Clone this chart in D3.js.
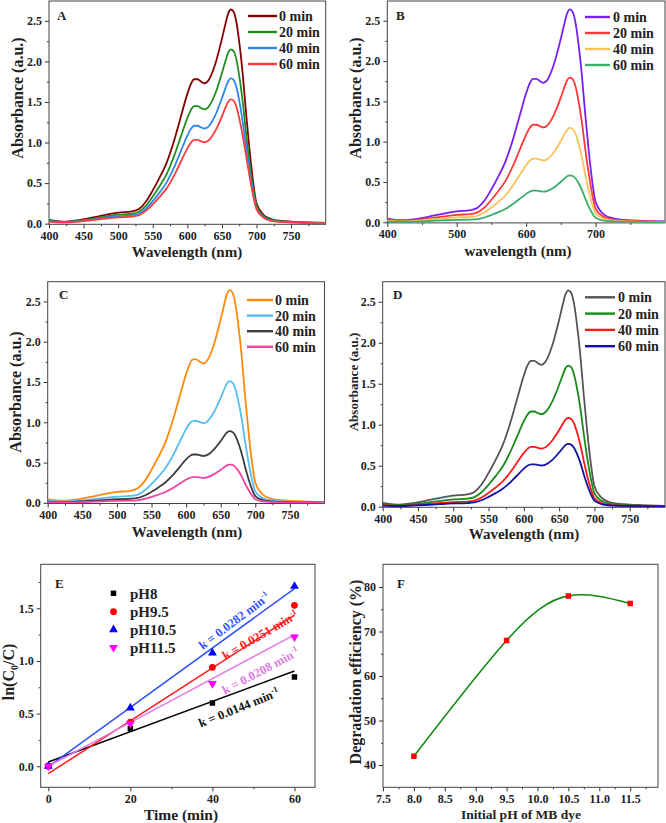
<!DOCTYPE html>
<html><head><meta charset="utf-8">
<script src="https://cdn.jsdelivr.net/npm/d3@7"></script>
<style>
body{margin:0;background:#fff}
svg{display:block}
text{font-family:"Liberation Serif","Times New Roman",serif;font-weight:bold;fill:#222}
</style>
</head><body>
<svg id="c" width="666" height="823"></svg>
<script>
// ---------- DATA ----------
const wavelengths = [400,420,440,460,480,500,520,530,540,550,560,570,580,590,600,605,610,615,620,625,630,640,650,655,659,663,667,671,675,680,685,690,695,700,710,720,740,760,800];
const timeLabels = ["0 min","20 min","40 min","60 min"];

const abs0 = [0.045,0.025,0.04,0.07,0.105,0.135,0.15,0.18,0.27,0.41,0.57,0.75,1.0,1.3,1.6,1.72,1.78,1.78,1.75,1.73,1.76,1.96,2.28,2.46,2.59,2.64,2.61,2.48,2.24,1.85,1.35,0.9,0.52,0.25,0.11,0.06,0.03,0.02,0.01];

const absA20 = [0.037,0.02,0.033,0.057,0.085,0.11,0.122,0.147,0.22,0.334,0.464,0.61,0.814,1.058,1.302,1.4,1.449,1.449,1.425,1.408,1.433,1.595,1.856,2.002,2.108,2.149,2.125,2.019,1.823,1.506,1.1,0.74,0.44,0.22,0.095,0.05,0.025,0.017,0.008];
const absA40 = [0.031,0.017,0.027,0.047,0.071,0.092,0.102,0.122,0.183,0.278,0.386,0.509,0.678,0.881,1.085,1.166,1.207,1.207,1.187,1.173,1.193,1.329,1.546,1.668,1.756,1.79,1.77,1.681,1.519,1.254,0.95,0.65,0.39,0.19,0.08,0.043,0.021,0.014,0.007];
const absA60 = [0.026,0.015,0.023,0.041,0.061,0.078,0.087,0.104,0.157,0.238,0.331,0.435,0.58,0.754,0.928,0.998,1.032,1.032,1.015,1.003,1.021,1.137,1.322,1.427,1.502,1.531,1.514,1.438,1.3,1.09,0.83,0.58,0.35,0.18,0.075,0.038,0.018,0.012,0.006];

const absB20 = [0.031,0.017,0.027,0.048,0.071,0.092,0.102,0.122,0.184,0.279,0.388,0.51,0.68,0.884,1.088,1.17,1.21,1.21,1.19,1.176,1.197,1.333,1.55,1.673,1.761,1.795,1.775,1.686,1.523,1.258,0.918,0.612,0.354,0.17,0.075,0.041,0.02,0.014,0.007];
const absB40 = [0.02,0.011,0.018,0.031,0.047,0.06,0.066,0.08,0.12,0.182,0.253,0.332,0.443,0.576,0.709,0.762,0.789,0.789,0.775,0.766,0.78,0.868,1.01,1.09,1.147,1.17,1.156,1.099,0.992,0.82,0.598,0.399,0.23,0.111,0.049,0.027,0.013,0.009,0.004];
const absB60 = [0.01,0.006,0.009,0.015,0.023,0.03,0.033,0.04,0.059,0.09,0.125,0.165,0.22,0.286,0.352,0.378,0.392,0.392,0.385,0.381,0.387,0.431,0.502,0.541,0.57,0.581,0.574,0.546,0.493,0.407,0.297,0.198,0.114,0.055,0.024,0.013,0.007,0.004,0.002];

const absC20 = [0.026,0.014,0.023,0.04,0.06,0.077,0.086,0.103,0.154,0.235,0.326,0.429,0.572,0.744,0.915,0.984,1.018,1.018,1.001,0.99,1.007,1.121,1.304,1.407,1.481,1.51,1.493,1.419,1.281,1.058,0.772,0.515,0.297,0.143,0.063,0.034,0.017,0.011,0.006];
const absC40 = [0.015,0.008,0.013,0.024,0.035,0.045,0.051,0.061,0.091,0.138,0.192,0.253,0.337,0.438,0.539,0.58,0.6,0.6,0.59,0.583,0.593,0.661,0.768,0.829,0.873,0.89,0.88,0.836,0.755,0.623,0.455,0.303,0.175,0.084,0.037,0.02,0.01,0.007,0.003];
const absC60 = [0.008,0.005,0.007,0.013,0.019,0.024,0.027,0.032,0.049,0.074,0.103,0.135,0.18,0.234,0.288,0.31,0.32,0.32,0.315,0.311,0.317,0.353,0.41,0.443,0.466,0.475,0.47,0.446,0.403,0.333,0.243,0.162,0.094,0.045,0.02,0.011,0.005,0.004,0.002];

const absD20 = [0.029,0.016,0.026,0.046,0.068,0.088,0.098,0.117,0.176,0.267,0.372,0.489,0.652,0.848,1.043,1.121,1.161,1.161,1.141,1.128,1.148,1.278,1.487,1.604,1.689,1.721,1.702,1.617,1.46,1.206,0.88,0.587,0.339,0.163,0.072,0.039,0.02,0.013,0.007];
const absD40 = [0.018,0.01,0.016,0.029,0.043,0.055,0.062,0.074,0.111,0.168,0.234,0.308,0.41,0.533,0.656,0.705,0.73,0.73,0.718,0.709,0.722,0.804,0.935,1.009,1.062,1.082,1.07,1.017,0.918,0.759,0.554,0.369,0.213,0.103,0.045,0.025,0.012,0.008,0.004];
const absD60 = [0.013,0.007,0.012,0.02,0.03,0.039,0.044,0.052,0.078,0.119,0.165,0.218,0.29,0.377,0.464,0.499,0.516,0.516,0.508,0.502,0.51,0.568,0.661,0.713,0.751,0.766,0.757,0.719,0.65,0.537,0.392,0.261,0.151,0.073,0.032,0.017,0.009,0.006,0.003];

const absTicks = [0,0.5,1.0,1.5,2.0,2.5];

// Panel E: kinetics
const timeMin = [0,20,40,60];
const phLabels = ["pH8","pH9.5","pH10.5","pH11.5"];
const lnPH8 = [0,0.357,0.60,0.848];
const lnPH9_5 = [0,0.42,0.94,1.528];
const lnPH10_5 = [0,0.554,1.076,1.709];
const lnPH11_5 = [0,0.405,0.785,1.228];
const rateK = [0.0144,0.0251,0.0282,0.0208];
const fitIntercept = [0.04,-0.07,-0.005,0.0];
const kLabels = ["k = 0.0144 min","k = 0.0251 min","k = 0.0282 min","k = 0.0208 min"];

// Panel F: efficiency vs pH
const initialPH = [8.0,9.5,10.5,11.5];
const efficiency = [42,68,78,76.3];

// ---------- DRAWING ----------
const svg = d3.select("#c");
const FONT = '"Liberation Serif","Times New Roman",serif';

function panel(o){
  const g = svg.append("g");
  const x = d3.scaleLinear().domain(o.xd).range([o.L,o.R]);
  const y = d3.scaleLinear().domain(o.yd).range([o.B,o.T]);
  const cid = "clip"+o.name;
  svg.append("clipPath").attr("id",cid).append("rect")
    .attr("x",o.L).attr("y",o.T).attr("width",o.R-o.L).attr("height",o.B-o.T);
  const styleAxis = sel=>{
    sel.select(".domain").remove();
    sel.selectAll("line").attr("stroke","#333");
    sel.selectAll("text").attr("font-size",12).attr("font-family",FONT).attr("font-weight","bold").attr("fill","#222");
  };
  g.append("g").attr("transform",`translate(0,${o.B})`)
    .call(d3.axisBottom(x).tickValues(o.xm).tickSize(2).tickFormat("")).call(styleAxis);
  g.append("g").attr("transform",`translate(0,${o.B})`)
    .call(d3.axisBottom(x).tickValues(o.xt).tickSize(4).tickPadding(3).tickFormat(o.xf)).call(styleAxis);
  g.append("g").attr("transform",`translate(${o.L},0)`)
    .call(d3.axisLeft(y).tickValues(o.ym).tickSize(2).tickFormat("")).call(styleAxis);
  g.append("g").attr("transform",`translate(${o.L},0)`)
    .call(d3.axisLeft(y).tickValues(o.yt).tickSize(4).tickPadding(3).tickFormat(o.yf)).call(styleAxis);
  g.append("rect").attr("x",o.L).attr("y",o.T).attr("width",o.R-o.L).attr("height",o.B-o.T)
    .attr("fill","none").attr("stroke","#444").attr("stroke-width",1);
  const plot = g.append("g").attr("clip-path",`url(#${cid})`);
  g.append("text").attr("x",o.letter[0]).attr("y",o.letter[1]).attr("font-size",13).text(o.name);
  g.append("text").attr("x",o.xTitle[0]).attr("y",o.xTitle[1]).attr("text-anchor","middle")
    .attr("font-size",o.xTitle[2]).text(o.xTitle[3]);
  const yt = g.append("text").attr("transform",`translate(${o.yTitle[0]},${o.yTitle[1]}) rotate(-90)`)
    .attr("text-anchor","middle").attr("font-size",o.yTitle[2]);
  return {g,x,y,plot,yt};
}

function spectraPanel(o, series, colors){
  const p = panel(o);
  p.yt.text(o.yTitle[3]);
  const line = d3.line().x((d,i)=>p.x(wavelengths[i])).y(d=>p.y(d)).curve(d3.curveMonotoneX);
  series.forEach((s,i)=>{
    p.plot.append("path").attr("d",line(s)).attr("fill","none").attr("stroke",colors[i]).attr("stroke-width",1.8);
  });
  const lg = p.g.append("g");
  timeLabels.forEach((t,i)=>{
    const yy = o.leg.y0 + i*o.leg.dy;
    lg.append("line").attr("x1",o.leg.x1).attr("x2",o.leg.x2).attr("y1",yy).attr("y2",yy)
      .attr("stroke",colors[i]).attr("stroke-width",2.4);
    lg.append("text").attr("x",o.leg.tx).attr("y",yy).attr("dy","0.35em").attr("font-size",14).text(t);
  });
}

const fmt1 = d3.format(".1f");
const xtWave50 = [400,450,500,550,600,650,700,750];
const xmWave50 = [425,475,525,575,625,675,725,775];
const ymAbs = [0.25,0.75,1.25,1.75,2.25];

spectraPanel({name:"A",L:49,R:325.7,T:1,B:224.3,xd:[400,800],yd:[-0.008,2.745],
  xt:xtWave50,xm:xmWave50,xf:d3.format("d"),yt:absTicks,ym:ymAbs,yf:fmt1,
  letter:[57,20],xTitle:[187,256.5,15,"Wavelength (nm)"],yTitle:[23,98,16,"Absorbance (a.u.)"],
  leg:{x1:248,x2:277,tx:279,y0:16,dy:16}},
  [abs0,absA20,absA40,absA60],["#850000","#1f8f1f","#2f86f0","#ff3b3b"]);

spectraPanel({name:"B",L:387.3,R:665,T:1,B:222.9,xd:[400,800],yd:[-0.008,2.745],
  xt:[400,500,600,700],xm:[450,550,650,750],xf:d3.format("d"),yt:absTicks,ym:ymAbs,yf:fmt1,
  letter:[396,20],xTitle:[518,256,15,"wavelength (nm)"],yTitle:[361,98,16,"Absorbance (a.u.)"],
  leg:{x1:585,x2:610,tx:613,y0:17,dy:16}},
  [abs0,absB20,absB40,absB60],["#7a1ff2","#ff3838","#f9c25a","#3aaf6a"]);

spectraPanel({name:"C",L:47.7,R:324.5,T:281.7,B:503.5,xd:[400,800],yd:[-0.008,2.745],
  xt:xtWave50,xm:xmWave50,xf:d3.format("d"),yt:absTicks,ym:ymAbs,yf:fmt1,
  letter:[59,299],xTitle:[187,536.5,15,"Wavelength (nm)"],yTitle:[21,392,16,"Absorbance (a.u.)"],
  leg:{x1:247,x2:273,tx:275,y0:300,dy:15.6}},
  [abs0,absC20,absC40,absC60],["#ff8a0a","#55bdf5","#3d3d3d","#f445a6"]);

spectraPanel({name:"D",L:382.7,R:665,T:281.7,B:507.3,xd:[400,800],yd:[-0.008,2.745],
  xt:xtWave50,xm:xmWave50,xf:d3.format("d"),yt:absTicks,ym:ymAbs,yf:fmt1,
  letter:[393,299],xTitle:[524,539,15,"Wavelength (nm)"],yTitle:[358,382,13,"Absorbance (a.u.)"],
  leg:{x1:585,x2:615,tx:618,y0:297.3,dy:16.3}},
  [abs0,absD20,absD40,absD60],["#555555","#178a17","#ff1a1a","#1010a8"]);

// ---- Panel E ----
(function(){
  const p = panel({name:"E",L:40.7,R:315,T:564.3,B:787.3,xd:[-1.85,65],yd:[-0.2,1.918],
    xt:[0,20,40,60],xm:[10,30,50],xf:d3.format("d"),yt:[0,0.5,1.0,1.5],ym:[0.25,0.75,1.25,1.75],yf:fmt1,
    letter:[55,588],xTitle:[181,820,15.5,"Time (min)"],yTitle:[14,672,16,""]});
  p.yt.append("tspan").text("ln(C");
  p.yt.append("tspan").attr("font-size",10).attr("dy",4).text("0");
  p.yt.append("tspan").attr("dy",-4).text("/C)");
  const series = [lnPH8,lnPH9_5,lnPH10_5,lnPH11_5];
  const markColors = ["#000000","#ff0000","#0000ff","#ff00ff"];
  const lineColors = ["#000000","#ff1a1a","#3050ff","#e67ce6"];
  const labelColors = ["#111111","#ff1a1a","#3050ff","#e07ae0"];
  const syms = [d3.symbol(d3.symbolSquare,30),d3.symbol(d3.symbolCircle,36),d3.symbol(d3.symbolTriangle,34),d3.symbol(d3.symbolTriangle,34)];
  const rots = [0,0,0,180];
  series.forEach((s,i)=>{
    p.plot.append("line").attr("x1",p.x(0)).attr("x2",p.x(60))
      .attr("y1",p.y(fitIntercept[i])).attr("y2",p.y(fitIntercept[i]+rateK[i]*60))
      .attr("stroke",lineColors[i]).attr("stroke-width",1.5);
  });
  series.forEach((s,i)=>{
    s.forEach((v,j)=>{
      p.plot.append("path").attr("d",syms[i]())
        .attr("transform",`translate(${p.x(timeMin[j])},${p.y(v)}) rotate(${rots[i]})`)
        .attr("fill",markColors[i]);
    });
  });
  const legY = [593.3,611.7,629.6,647.5];
  phLabels.forEach((t,i)=>{
    p.g.append("path").attr("d",syms[i]()).attr("transform",`translate(113.5,${legY[i]}) rotate(${rots[i]})`).attr("fill",markColors[i]);
    p.g.append("text").attr("x",130).attr("y",legY[i]).attr("dy","0.35em").attr("font-size",15).text(t);
  });
  const kPos = [[238.8,707.5,-22],[260,635,-30],[234.2,620.8,-37],[260.5,670.8,-28]];
  kLabels.forEach((t,i)=>{
    const tx = p.g.append("text").attr("transform",`translate(${kPos[i][0]},${kPos[i][1]}) rotate(${kPos[i][2]})`)
      .attr("text-anchor","middle").attr("dy","0.35em").attr("font-size",12.5)
      .style("fill",labelColors[i]);
    tx.append("tspan").text(t);
    tx.append("tspan").attr("font-size",8).attr("dy",-5).text("-1");
  });
})();

// ---- Panel F ----
(function(){
  const p = panel({name:"F",L:383,R:658,T:564.3,B:787.3,xd:[7.5,11.95],yd:[35,85.1],
    xt:[7.5,8.0,8.5,9.0,9.5,10.0,10.5,11.0,11.5],xm:[7.75,8.25,8.75,9.25,9.75,10.25,10.75,11.25,11.75],xf:fmt1,
    yt:[40,50,60,70,80],ym:[45,55,65,75],yf:d3.format("d"),
    letter:[397,588],xTitle:[521,819,13.5,"Initial pH of MB dye"],yTitle:[361,672,16,""]});
  p.yt.text("Degradation efficiency (%)");
  const pts = initialPH.map((v,i)=>[v,efficiency[i]]);
  const line = d3.line().x(d=>p.x(d[0])).y(d=>p.y(d[1])).curve(d3.curveNatural);
  p.plot.append("path").attr("d",line(pts)).attr("fill","none").attr("stroke","#128a12").attr("stroke-width",1.6);
  pts.forEach(d=>{
    p.plot.append("path").attr("d",d3.symbol(d3.symbolSquare,30)())
      .attr("transform",`translate(${p.x(d[0])},${p.y(d[1])})`).attr("fill","#ff0000");
  });
})();
</script>
</body></html>
